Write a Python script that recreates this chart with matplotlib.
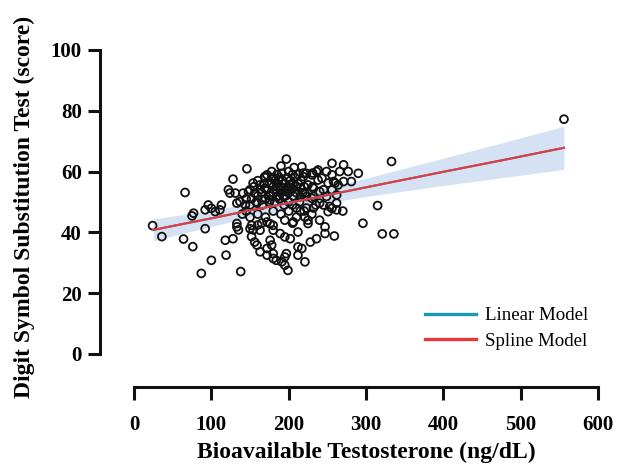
import numpy as np
import matplotlib
matplotlib.use("Agg")
import matplotlib.pyplot as plt

# --- scatter data: (bioavailable T [ng/dL], DSST score) ---
outer_points = [
    (24, 42.2), (36, 38.6), (64, 37.8), (66, 53.1), (76, 35.3), (75, 45.4),
    (77, 46.3), (87, 26.5), (92, 41.2), (92, 47.4), (96, 49.0), (100, 30.8),
    (100, 47.9), (105, 46.8), (111, 47.4), (113, 49.0), (118, 37.4), (119, 32.5),
    (122, 54.0), (124, 52.9), (128, 57.5), (128, 37.9), (131, 52.9), (133, 42.9),
    (133, 41.8), (133, 49.6), (135, 40.8), (138, 27.1), (137, 50.1), (141, 52.9),
    (144, 49.0), (146, 60.9), (148, 53.4), (150, 49.0), (150, 41.2), (152, 42.3),
    (152, 38.6), (154, 56.2), (154, 40.8), (156, 52.9), (156, 36.8), (159, 35.8),
    (159, 49.6), (160, 42.4), (163, 40.7), (163, 33.6), (163, 55.6), (165, 50.7),
    (169, 54.5), (169, 58.3), (172, 43.4), (172, 34.7), (172, 32.5), (172, 58.9),
    (176, 42.8), (176, 37.4), (176, 50.7), (178, 35.8), (178, 56.2), (180, 57.8),
    (180, 42.3), (180, 40.7), (180, 33.0), (180, 31.4), (184, 30.8), (185, 51.8),
    (187, 57.2), (189, 39.6), (189, 54.0), (190, 61.8), (191, 30.3), (191, 59.4),
    (193, 51.8), (195, 29.2), (195, 38.5), (195, 31.9), (197, 33.0), (197, 53.4),
    (197, 64.1), (199, 27.5), (202, 55.6), (202, 37.9), (206, 43.4), (207, 61.3),
    (210, 55.1), (212, 40.1), (212, 35.2), (212, 32.5), (215, 54.5), (215, 51.8),
    (217, 34.7), (217, 61.6), (219, 59.5), (219, 58.3), (221, 45.0), (221, 30.3),
    (221, 52.9), (223, 48.0), (223, 59.4), (223, 51.8), (225, 55.6), (225, 42.9),
    (228, 36.8), (230, 58.9), (230, 51.2), (231, 59.5), (231, 55.0), (232, 54.5),
    (232, 48.0), (232, 51.8), (236, 60.0), (236, 37.9), (238, 57.2), (238, 60.5),
    (240, 49.6), (240, 53.4), (243, 57.8), (245, 49.0), (245, 54.0), (247, 41.8),
    (247, 39.6), (249, 60.0), (249, 51.8), (251, 46.8), (251, 56.2), (253, 48.5),
    (256, 62.7), (256, 54.0), (256, 47.9), (256, 58.9), (259, 38.8), (258, 56.7),
    (260, 56.2), (262, 52.3), (262, 49.6), (262, 47.4), (264, 55.6), (266, 60.0),
    (270, 47.0), (271, 62.2), (271, 56.7), (277, 60.0), (281, 56.7), (290, 59.4),
    (296, 43.0), (315, 48.8), (321, 39.5), (333, 63.3), (336, 39.5), (556, 77.2),
]
core_points = [
    (155, 55), (160, 57), (165, 53), (168, 56), (170, 58), (172, 54), (175, 56),
    (175, 52), (178, 58), (180, 55), (180, 53), (182, 57), (184, 54), (185, 56),
    (186, 52), (188, 58), (190, 55), (190, 53), (192, 57), (194, 56), (195, 54),
    (196, 52), (198, 58), (200, 55), (200, 53), (202, 57), (204, 54), (205, 56),
    (206, 52), (208, 58), (210, 53), (212, 56), (214, 50), (216, 57), (218, 53),
    (220, 55), (170, 51), (175, 50), (182, 50), (188, 51), (194, 49), (200, 50),
    (205, 49), (210, 48), (215, 47), (160, 52), (163, 54), (150, 54), (152, 51),
    (145, 51), (158, 50), (166, 49), (185, 59), (178, 60), (205, 59), (200, 60),
    (212, 59),
]
ring_points = [
    (140, 46), (145, 47), (150, 45), (160, 46), (170, 45), (180, 47), (190, 46),
    (200, 47), (210, 45), (220, 47), (230, 46), (240, 44), (165, 43), (195, 44),
    (205, 43), (225, 44), (235, 49),
]

# --- fitted model and its band ---
fit_x = [25, 60, 100, 140, 185, 230, 300, 400, 480, 556]
fit_y = [40.8, 42.6, 44.6, 46.7, 48.9, 51.2, 54.8, 59.9, 63.9, 67.8]
band_lo = [37.2, 39.5, 41.9, 44.4, 46.7, 48.9, 51.8, 55.4, 58.1, 60.7]
band_hi = [44.4, 45.7, 47.3, 49.0, 51.1, 53.5, 57.8, 64.4, 69.7, 74.9]

pts = np.array(outer_points + core_points + ring_points)

plt.rcParams['font.family'] = ['Liberation Serif', 'DejaVu Serif']

fig = plt.figure(figsize=(6.35, 4.66), dpi=100)
ax = fig.add_axes([100 / 635, 0.1695, 498 / 635, 0.7235])

ax.fill_between(fit_x, band_lo, band_hi, color="#d5e2f4", linewidth=0, zorder=1)
ax.scatter(pts[:, 0], pts[:, 1], s=32, facecolors="none", edgecolors="#111111",
           linewidths=1.3, zorder=2)
ax.plot(fit_x, fit_y, color="#1b98b3", linewidth=1.5, label="Linear Model", zorder=3)
ax.plot(fit_x, fit_y, color="#e8383d", linewidth=1.5, label="Spline Model", zorder=4)

# both axes are drawn detached from the data area (offset spines)
ax.set_xlim(-44, 600)
ax.set_ylim(-10.86, 100)
ax.set_xticks([0, 100, 200, 300, 400, 500, 600])
ax.set_yticks([0, 20, 40, 60, 80, 100])

for side in ["top", "right"]:
    ax.spines[side].set_visible(False)
ax.spines["left"].set_bounds(0, 100)
ax.spines["bottom"].set_bounds(0, 600)
for side in ["left", "bottom"]:
    ax.spines[side].set_linewidth(2.2)
    ax.spines[side].set_color("#111111")
ax.tick_params(width=2.2, length=9, color="#111111", labelsize=15)
ax.tick_params(axis="x", pad=11)
ax.tick_params(axis="y", pad=4)
for lab in ax.get_xticklabels() + ax.get_yticklabels():
    lab.set_fontweight("bold")

ax.set_xlabel("Bioavailable Testosterone (ng/dL)", fontsize=17, fontweight="bold")
ax.set_ylabel("Digit Symbol Substitution Test (score)", fontsize=17, fontweight="bold")
ax.xaxis.set_label_coords(0.534, -0.163)
ax.yaxis.set_label_coords(-0.13, 0.534)

leg = ax.legend(loc="upper left", bbox_to_anchor=(425 / 635, 1 - 307 / 466),
                bbox_transform=fig.transFigure, frameon=False, fontsize=13.6,
                handlelength=2.7, handletextpad=0.5, labelspacing=0.45, borderpad=0,
                borderaxespad=0)
for line in leg.get_lines():
    line.set_linewidth(2.4)

fig.savefig("out.png", dpi=100)
